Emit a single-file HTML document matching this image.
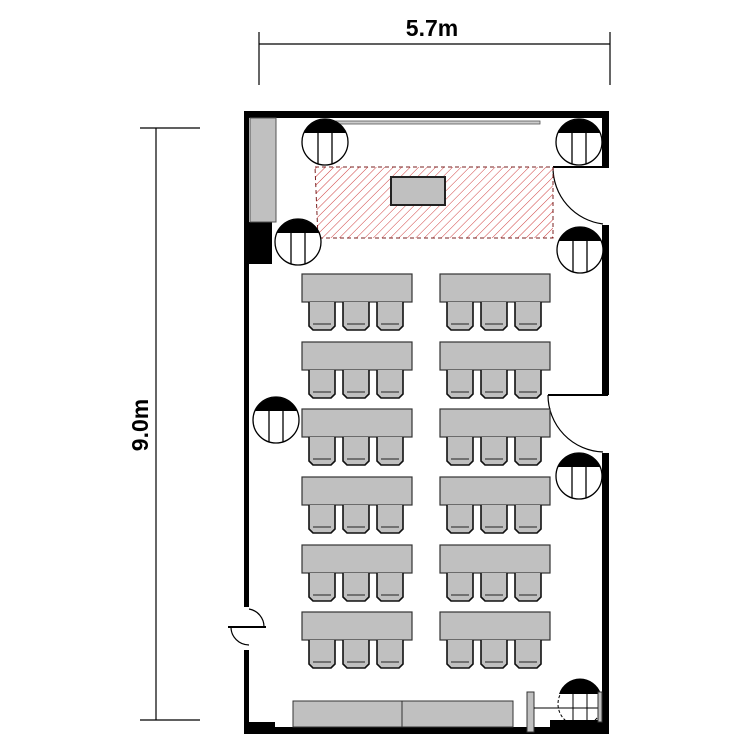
<!DOCTYPE html><html><head><style>body{margin:0;background:#fff}svg{display:block}</style></head><body>
<svg width="750" height="750" viewBox="0 0 750 750" xmlns="http://www.w3.org/2000/svg">
<defs>
<pattern id="h" width="6" height="6" patternUnits="userSpaceOnUse" patternTransform="rotate(45)"><line x1="0" y1="0" x2="0" y2="6" stroke="#d04040" stroke-width="1"/></pattern>
<g id="lamp"><circle cx="0" cy="0" r="23" fill="#fff" stroke="#000" stroke-width="1.3"/><path d="M-21,-9 A23,23 0 0 1 21,-9 Z" fill="#000"/><line x1="-7" y1="-10" x2="-7" y2="22" stroke="#000" stroke-width="1.3"/><line x1="7" y1="-10" x2="7" y2="22" stroke="#000" stroke-width="1.3"/></g>
<g id="row"><rect x="0" y="0" width="110" height="28" fill="#c0c0c0" stroke="#333" stroke-width="1.2"/>
<g fill="#c0c0c0" stroke="#111" stroke-width="1.6"><path d="M7,28 v24 l4,4 h18 l4,-4 v-24"/><path d="M41,28 v24 l4,4 h18 l4,-4 v-24"/><path d="M75,28 v24 l4,4 h18 l4,-4 v-24"/></g>
<g stroke="#222" stroke-width="1"><line x1="11" y1="50" x2="29" y2="50"/><line x1="45" y1="50" x2="63" y2="50"/><line x1="79" y1="50" x2="97" y2="50"/></g></g>
</defs>
<g stroke="#000" stroke-width="1.2"><line x1="259" y1="44" x2="610" y2="44"/><line x1="259" y1="32" x2="259" y2="85"/><line x1="610" y1="32" x2="610" y2="85"/>
<line x1="156" y1="128" x2="156" y2="720"/><line x1="140" y1="128" x2="200" y2="128"/><line x1="140" y1="720" x2="200" y2="720"/></g>
<text x="432" y="36" font-family="Liberation Sans,sans-serif" font-size="23" font-weight="bold" text-anchor="middle">5.7m</text>
<text transform="translate(148,425) rotate(-90)" font-family="Liberation Sans,sans-serif" font-size="23" font-weight="bold" text-anchor="middle">9.0m</text>
<g fill="#000"><rect x="244" y="111" width="365" height="7"/><rect x="244" y="111" width="5" height="496"/><rect x="244" y="650" width="5" height="84"/><rect x="244" y="727" width="365" height="7"/>
<rect x="602" y="111" width="7" height="57"/><rect x="602" y="225" width="7" height="170"/><rect x="602" y="453" width="7" height="281"/>
<rect x="248" y="222" width="24" height="42"/><rect x="248" y="722" width="27" height="6"/><rect x="550" y="720" width="55" height="8"/></g>
<rect x="250" y="118" width="26" height="104" fill="#c0c0c0" stroke="#555"/>
<rect x="335" y="121" width="205" height="3" fill="#ccc" stroke="#555" stroke-width="0.8"/>
<g fill="none" stroke="#000" stroke-width="1.2"><line x1="553" y1="167" x2="608" y2="167" stroke-width="2"/><path d="M553,167 A57,57 0 0 0 603,224"/>
<line x1="548" y1="395" x2="608" y2="395" stroke-width="2"/><path d="M548,395 A57,57 0 0 0 603,452"/>
<line x1="228" y1="627" x2="266" y2="627" stroke-width="2"/><path d="M249,609 A18,18 0 0 1 264,627"/><path d="M231,627 A18,18 0 0 0 249,645"/></g>
<polygon points="315,167 553,167 553,238 318,238" fill="url(#h)" stroke="#7a2020" stroke-dasharray="4,3" stroke-width="1"/>
<rect x="391" y="177" width="54" height="28" fill="#c0c0c0" stroke="#222" stroke-width="2"/>
<use href="#lamp" x="325" y="142"/><use href="#lamp" x="579" y="142"/><use href="#lamp" x="298" y="242"/><use href="#lamp" x="580" y="250"/><use href="#lamp" x="276" y="420"/><use href="#lamp" x="579" y="476"/>
<use href="#row" x="302" y="274"/><use href="#row" x="440" y="274"/>
<use href="#row" x="302" y="342"/><use href="#row" x="440" y="342"/>
<use href="#row" x="302" y="409"/><use href="#row" x="440" y="409"/>
<use href="#row" x="302" y="477"/><use href="#row" x="440" y="477"/>
<use href="#row" x="302" y="545"/><use href="#row" x="440" y="545"/>
<use href="#row" x="302" y="612"/><use href="#row" x="440" y="612"/>
<rect x="293" y="701" width="109" height="26" fill="#c0c0c0" stroke="#333"/><rect x="402" y="701" width="111" height="26" fill="#c0c0c0" stroke="#333"/>
<rect x="527" y="692" width="7" height="40" fill="#c0c0c0" stroke="#333"/>
<line x1="534" y1="708" x2="600" y2="708" stroke="#000"/>
<g><circle cx="580" cy="704" r="22" fill="none" stroke="#000" stroke-width="1" stroke-dasharray="3,2"/><path d="M559,694 A22,22 0 0 1 601,694 Z" fill="#000"/>
<line x1="573" y1="694" x2="573" y2="726" stroke="#000"/><line x1="587" y1="694" x2="587" y2="726" stroke="#000"/><rect x="598" y="692" width="4" height="30" fill="#c0c0c0" stroke="#333"/></g>
</svg></body></html>
